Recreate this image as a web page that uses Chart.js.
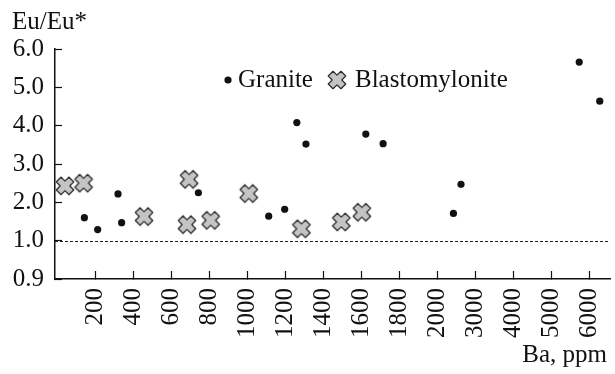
<!DOCTYPE html>
<html>
<head>
<meta charset="utf-8">
<script src="https://cdn.jsdelivr.net/npm/chart.js@4/dist/chart.umd.min.js"></script>
<style>
  body { margin: 0; background: #fff; }
</style>
</head>
<body>
<canvas id="chart" width="615" height="374"></canvas>
<script>
// Ba (ppm) and Eu/Eu*
const graniteBa = [144, 214, 321, 340, 744, 1114, 1198, 1262, 1310, 1625, 1716, 2430, 2630, 5740, 6280];
const graniteEu = [1.60, 1.29, 2.22, 1.47, 2.25, 1.64, 1.82, 4.08, 3.52, 3.78, 3.53, 1.71, 2.47, 5.66, 4.64];
const blastoBa = [42, 140, 458, 695, 684, 809, 1009, 1286, 1496, 1604];
const blastoEu = [2.43, 2.50, 1.63, 2.60, 1.42, 1.53, 2.23, 1.31, 1.49, 1.74];

const baTicks = [200, 400, 600, 800, 1000, 1200, 1400, 1600, 1800, 2000, 3000, 4000, 5000, 6000];
const euTicks = [0.9, 1.0, 2.0, 3.0, 4.0, 5.0, 6.0];
const refLine = 1.0;

const FONT = "'Liberation Serif', 'Times New Roman', serif";

// broken axes: 200 ppm steps up to 2000, then 1000 ppm steps
function baToAxis(ba) {
  return ba <= 2000 ? ba / 200 : 10 + (ba - 2000) / 1000;
}
// 0.9..1.0 stretched to one unit, then 1 unit per 1.0
function euToAxis(eu) {
  return eu <= 1 ? (eu - 0.9) / 0.1 : eu;
}

function makeCross() {
  const c = document.createElement("canvas");
  c.width = 22; c.height = 22;
  const g = c.getContext("2d");
  const a = 3.4, b = 9;
  const pts = [[-a,-b],[a,-b],[a,-a],[b,-a],[b,a],[a,a],[a,b],[-a,b],[-a,a],[-b,a],[-b,-a],[-a,-a]];
  g.translate(11, 11);
  g.rotate(Math.PI / 4);
  g.beginPath();
  pts.forEach((p, i) => i ? g.lineTo(p[0], p[1]) : g.moveTo(p[0], p[1]));
  g.closePath();
  g.fillStyle = "#c4c4c4";
  g.fill();
  g.lineJoin = "round";
  g.lineWidth = 1.2;
  g.strokeStyle = "#2a2a2a";
  g.stroke();
  return c;
}
const crossImg = makeCross();

const extras = {
  id: "extras",
  beforeDatasetsDraw(chart) {
    const { ctx, chartArea } = chart;
    const y = chart.scales.y.getPixelForValue(euToAxis(refLine));
    ctx.save();
    ctx.strokeStyle = "#222";
    ctx.lineWidth = 1.2;
    ctx.setLineDash([3, 2]);
    ctx.beginPath();
    ctx.moveTo(chartArea.left, Math.round(y) + 0.5);
    ctx.lineTo(chartArea.right, Math.round(y) + 0.5);
    ctx.stroke();
    ctx.restore();
  },
  afterDraw(chart) {
    const ctx = chart.ctx;
    ctx.save();
    ctx.fillStyle = "#111";
    ctx.font = "25px " + FONT;
    ctx.textBaseline = "alphabetic";
    ctx.textAlign = "left";
    ctx.fillText("Eu/Eu*", 12, 29);
    ctx.textAlign = "right";
    ctx.fillText("Ba, ppm", 607, 362);
    // legend
    ctx.textAlign = "left";
    ctx.beginPath();
    ctx.arc(228, 80, 3.6, 0, Math.PI * 2);
    ctx.fill();
    ctx.fillText("Granite", 238, 87);
    ctx.drawImage(crossImg, 326, 69);
    ctx.fillText("Blastomylonite", 355, 87);
    ctx.restore();
  }
};

new Chart(document.getElementById("chart"), {
  type: "scatter",
  data: {
    datasets: [
      {
        label: "Granite",
        data: graniteBa.map((b, i) => ({ x: baToAxis(b), y: euToAxis(graniteEu[i]) })),
        pointStyle: "circle",
        pointRadius: 3.6,
        backgroundColor: "#111",
        borderColor: "#111",
        borderWidth: 0
      },
      {
        label: "Blastomylonite",
        data: blastoBa.map((b, i) => ({ x: baToAxis(b), y: euToAxis(blastoEu[i]) })),
        pointStyle: crossImg,
        pointRadius: 10
      }
    ]
  },
  options: {
    responsive: false,
    animation: false,
    layout: { autoPadding: false, padding: { top: 49, right: 5, left: 0, bottom: 0 } },
    plugins: { legend: { display: false }, tooltip: { enabled: false } },
    scales: {
      x: {
        type: "linear",
        min: -0.053,
        max: 14.55,
        afterBuildTicks: s => { s.ticks = baTicks.map(b => ({ value: baToAxis(b) })); },
        afterFit: s => { s.height = 95; s.paddingLeft = 0; s.paddingRight = 0; },
        ticks: {
          callback: (v, i) => String(baTicks[i]),
          minRotation: 90,
          maxRotation: 90,
          autoSkip: false,
          padding: 17,
          color: "#111",
          font: { family: FONT, size: 25 }
        },
        grid: { drawOnChartArea: false, tickLength: -8, tickColor: "#111", tickWidth: 1.2 },
        border: { color: "#111", width: 1.5 }
      },
      y: {
        type: "linear",
        min: 0,
        max: 6,
        afterBuildTicks: s => { s.ticks = euTicks.map(e => ({ value: euToAxis(e) })); },
        afterFit: s => { s.width = 55; },
        ticks: {
          callback: (v, i) => euTicks[i].toFixed(1),
          padding: 18,
          color: "#111",
          font: { family: FONT, size: 25 }
        },
        grid: { drawOnChartArea: false, tickLength: -7, tickColor: "#111", tickWidth: 1.2 },
        border: { color: "#111", width: 1.5 }
      }
    }
  },
  plugins: [extras]
});
</script>
</body>
</html>
